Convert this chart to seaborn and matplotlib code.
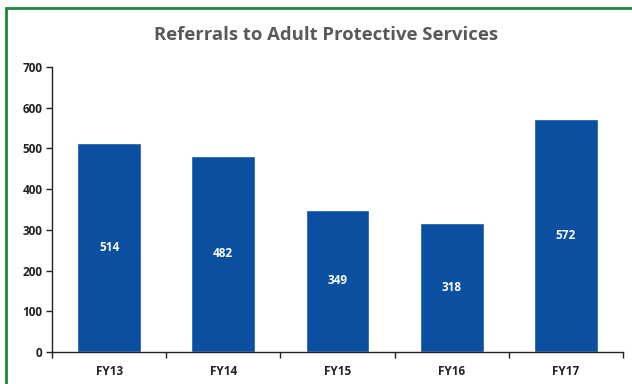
import matplotlib
matplotlib.use("Agg")
import matplotlib.pyplot as plt
import seaborn as sns
import pandas as pd
from matplotlib.patches import Rectangle
from matplotlib.ticker import FixedLocator

categories = ["FY13", "FY14", "FY15", "FY16", "FY17"]
values = [514, 482, 349, 318, 572]
title = "Referrals to Adult Protective Services"

sns.set_style("white")
plt.rcParams["font.family"] = ["Open Sans", "DejaVu Sans"]

df = pd.DataFrame({"cat": categories, "val": values})

fig = plt.figure(figsize=(6.32, 3.84), dpi=100)
ax = fig.add_axes([52/632, 1-352/384, (623-52)/632, (352-67)/384])

sns.barplot(data=df, x="cat", y="val", color="#0B4FA0", saturation=1,
            width=0.56, ax=ax)

ax.set_ylim(0, 700)
ax.set_xlim(-0.5, len(categories) - 0.5)
ax.set_yticks(range(0, 701, 100))
ax.set_xlabel("")
ax.set_ylabel("")

for s in ["top", "right"]:
    ax.spines[s].set_visible(False)
for s in ["left", "bottom"]:
    ax.spines[s].set_color("#222222")
    ax.spines[s].set_linewidth(1.0)

ax.tick_params(axis="y", left=True, direction="out", length=4, width=1,
               colors="#222222", labelsize=8.5, pad=3)
ax.tick_params(axis="x", bottom=False, labelsize=8.5, pad=6, colors="#222222")
ax.xaxis.set_minor_locator(FixedLocator([i + 0.5 for i in range(-1, len(categories))]))
ax.tick_params(axis="x", which="minor", bottom=True, direction="out",
               length=4, width=1, color="#222222")
for lab in ax.get_xticklabels() + ax.get_yticklabels():
    lab.set_fontweight("bold")

for i, v in enumerate(values):
    ax.text(i, v / 2, str(v), ha="center", va="center", color="white",
            fontsize=8.5, fontweight="bold")

fig.text(326/632, 1 - 35/384, title, ha="center", va="center",
         fontsize=13.3, fontweight="bold", color="#595959")

# green frame
fig.patches.append(Rectangle((6/632, -0.05), 1.0, 1 - 8/384 + 0.05,
                             transform=fig.transFigure, fill=False,
                             edgecolor="#1A8A3A", linewidth=2.0))

fig.savefig("out.png", dpi=100)
